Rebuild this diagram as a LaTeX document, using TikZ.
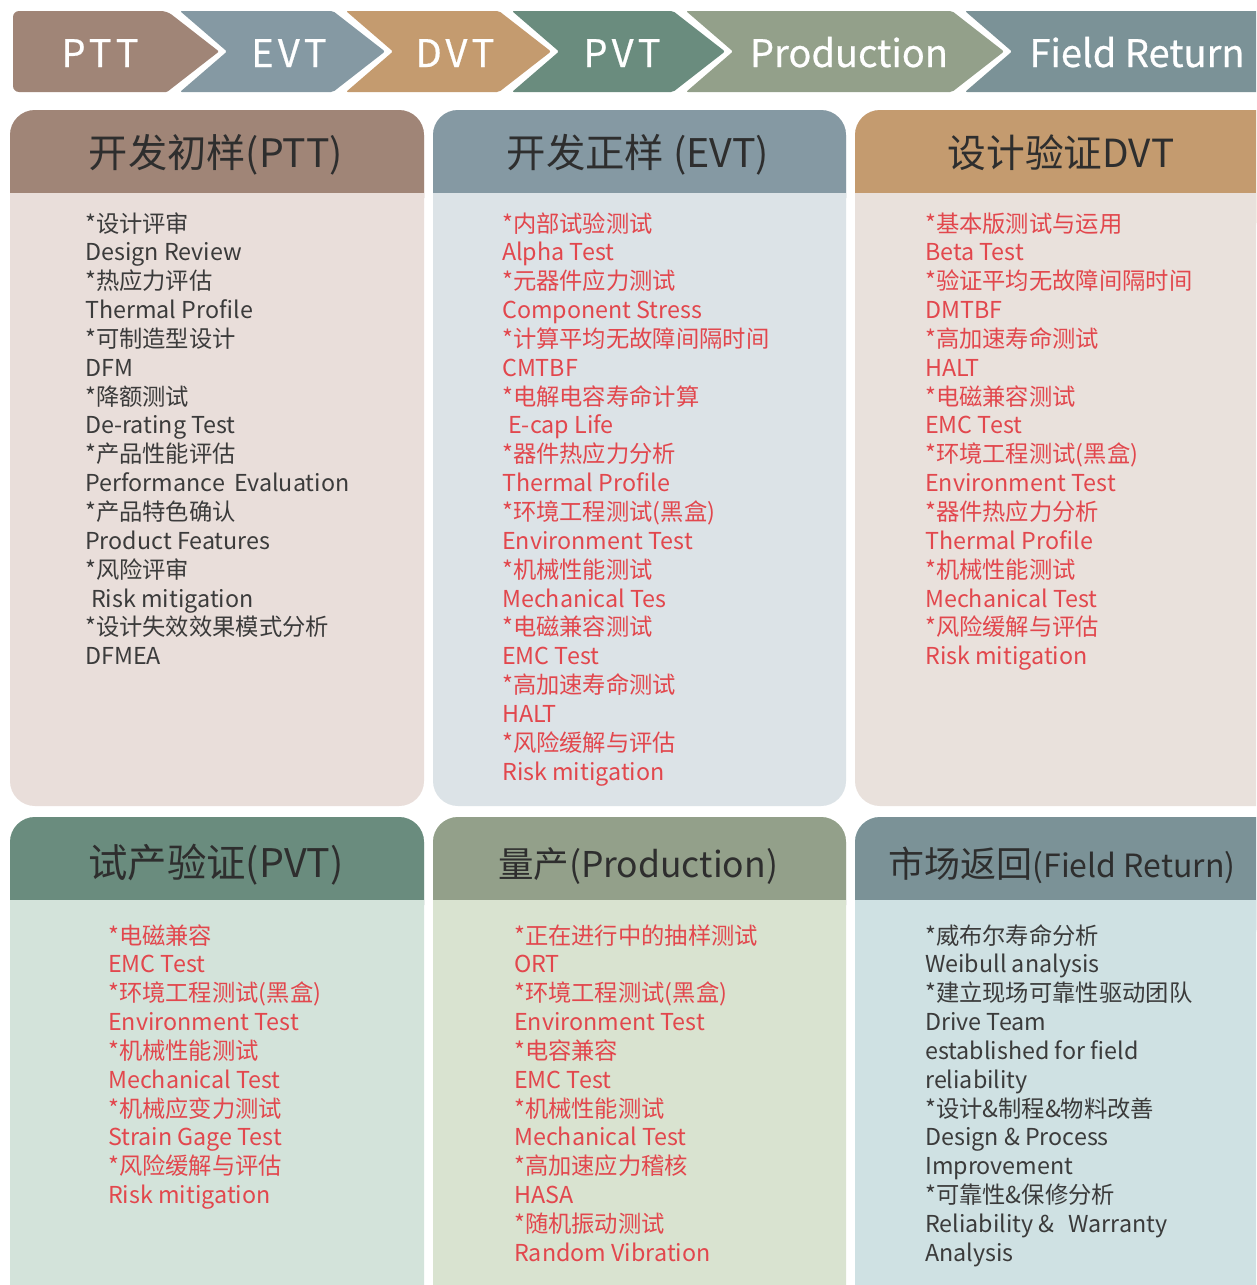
\documentclass[tikz,border=0pt]{standalone}
\usepackage{fontspec}
\setmainfont{Noto Sans CJK SC}
\newfontfamily\chevfont[LetterSpace=11,FakeBold=0.6]{Noto Sans CJK SC}
\newfontfamily\chevplain[FakeBold=0.6]{Noto Sans CJK SC}
\definecolor{cPTT}{HTML}{A08577}
\definecolor{cEVT}{HTML}{8599A3}
\definecolor{cDVT}{HTML}{C49B6F}
\definecolor{cPVT}{HTML}{6A8C7E}
\definecolor{cPRD}{HTML}{93A08A}
\definecolor{cFR}{HTML}{7B9297}
\definecolor{bPTT}{HTML}{E9DEDA}
\definecolor{bEVT}{HTML}{DCE3E7}
\definecolor{bDVT}{HTML}{E9E1DC}
\definecolor{bPVT}{HTML}{D3E3DA}
\definecolor{bPRD}{HTML}{D9E3D0}
\definecolor{bFR}{HTML}{CFE1E3}
\definecolor{txtred}{HTML}{E2474D}
\definecolor{txtdark}{HTML}{3B3B3B}
\definecolor{txthead}{HTML}{2E2E2E}
\newcommand{\drawpanel}[7]{%
  \fill[#7,rounded corners=25pt] (#1,#3) rectangle (#2,#5);
  \fill[#6,rounded corners=25pt] (#1,#3) rectangle (#2,#4+30);
  \fill[#7] (#1,#4) rectangle (#2,#4+32);
}
\newcommand{\panellines}[5]{%
  \foreach \t [count=\i] in {#5} {
    \node[bodytext, text=#4, name=#1-\i] at (#2, {#3+28.85*(\i-1)}) {\t};
  }
}
\newcommand{\hsz}[1]{\fontsize{#1}{#1}\selectfont}
\begin{document}
\begin{tikzpicture}[x=1pt,y=-1pt,
  chevtext/.style={text=white,font=\chevfont\fontsize{38}{40}\selectfont,anchor=base,inner sep=0pt},
  chevtextplain/.style={text=white,font=\chevplain\fontsize{38}{40}\selectfont,anchor=base,inner sep=0pt},
  headtext/.style={text=txthead,anchor=base,inner sep=0pt},
  bodytext/.style={anchor=base west,inner sep=0pt,font=\fontsize{23.3}{28}\selectfont}]
\useasboundingbox (0,0) rectangle (1256,1285);
\clip (0,0) rectangle (1256,1285);
\fill[white] (0,0) rectangle (1256,1285);

% chevrons
\fill[cPTT,rounded corners=6pt] (13,11) -- (167,11) [rounded corners=1pt] -- (219,51.5) -- (167,92) [rounded corners=6pt] -- (13,92) -- cycle;
\fill[cEVT,rounded corners=2pt] (180,11) -- (333,11) -- (385,51.5) -- (333,92) -- (180,92) -- (227,51.5) -- cycle;
\fill[cDVT,rounded corners=2pt] (346,11) -- (499,11) -- (551,51.5) -- (499,92) -- (346,92) -- (393,51.5) -- cycle;
\fill[cPVT,rounded corners=2pt] (512,11) -- (673,11) -- (725,51.5) -- (673,92) -- (512,92) -- (559,51.5) -- cycle;
\fill[cPRD,rounded corners=2pt] (686,11) -- (952,11) -- (1004,51.5) -- (952,92) -- (686,92) -- (733,51.5) -- cycle;
\fill[cFR,rounded corners=2pt] (965,11) -- (1290,11) -- (1290,92) -- (965,92) -- (1012,51.5) -- cycle;
\node[chevtext] (t1) at (100,67) {PTT};
\node[chevtext] (t2) at (289,67) {EVT};
\node[chevtext] (t3) at (455,67) {DVT};
\node[chevtext] (t4) at (622,67) {PVT};
\node[chevtextplain] (t5) at (849,67) {Production};
\node[chevtextplain] (t6) at (1137,67) {Field Return};

% panels
\drawpanel{10}{424}{110}{193}{806}{cPTT}{bPTT}
\drawpanel{433}{846}{110}{193}{806}{cEVT}{bEVT}
\drawpanel{855}{1290}{110}{193}{806}{cDVT}{bDVT}
\drawpanel{10}{424}{817}{900}{1330}{cPVT}{bPVT}
\drawpanel{433}{846}{817}{900}{1330}{cPRD}{bPRD}
\drawpanel{855}{1290}{817}{900}{1330}{cFR}{bFR}

\node[headtext,font=\hsz{39.2}] (h1) at (216,167) {开发初样(PTT)};
\node[headtext,font=\hsz{39.4}] (h2) at (638,167) {开发正样 (EVT)};
\node[headtext,font=\hsz{38.7}] (h3) at (1061,167) {设计验证DVT};
\node[headtext,font=\hsz{39.4}] (h4) at (216,877) {试产验证(PVT)};
\node[headtext,font=\hsz{35.5}] (h5) at (638,877) {量产(Production)};
\node[headtext,font=\hsz{36}] (h6) at (1062,877) {市场返回{\hsz{32}(Field Return)}};

\panellines{p}{85}{232}{txtdark}{{*设计评审},{Design Review},{*热应力评估},{Thermal Profile},{*可制造型设计},{DFM},{*降额测试},{De-rating Test},{*产品性能评估},{Performance\hspace{4pt} Evaluation},{*产品特色确认},{Product Features},{*风险评审},{\hspace*{6pt}Risk mitigation},{*设计失效效果模式分析},{DFMEA}}
\panellines{e}{502}{232}{txtred}{{*内部试验测试},{Alpha Test},{*元器件应力测试},{Component Stress},{*计算平均无故障间隔时间},{CMTBF},{*电解电容寿命计算},{\hspace*{6pt}E-cap Life},{*器件热应力分析},{Thermal Profile},{*环境工程测试(黑盒)},{Environment Test},{*机械性能测试},{Mechanical Tes},{*电磁兼容测试},{EMC Test},{*高加速寿命测试},{HALT},{*风险缓解与评估},{Risk mitigation}}
\panellines{d}{925}{232}{txtred}{{*基本版测试与运用},{Beta Test},{*验证平均无故障间隔时间},{DMTBF},{*高加速寿命测试},{HALT},{*电磁兼容测试},{EMC Test},{*环境工程测试(黑盒)},{Environment Test},{*器件热应力分析},{Thermal Profile},{*机械性能测试},{Mechanical Test},{*风险缓解与评估},{Risk mitigation}}
\panellines{v}{108}{944}{txtred}{{*电磁兼容},{EMC Test},{*环境工程测试(黑盒)},{Environment Test},{*机械性能测试},{Mechanical Test},{*机械应变力测试},{Strain Gage Test},{*风险缓解与评估},{Risk mitigation}}
\panellines{m}{514}{944}{txtred}{{*正在进行中的抽样测试},{ORT},{*环境工程测试(黑盒)},{Environment Test},{*电容兼容},{EMC Test},{*机械性能测试},{Mechanical Test},{*高加速应力稽核},{HASA},{*随机振动测试},{Random Vibration}}
\panellines{f}{925}{944}{txtdark}{{*威布尔寿命分析},{Weibull analysis},{*建立现场可靠性驱动团队},{Drive Team},{established for field},{reliability},{*设计\&制程\&物料改善},{Design \& Process},{Improvement},{*可靠性\&保修分析},{Reliability \&\hspace{14pt}Warranty},{Analysis}}
\end{tikzpicture}
\end{document}
